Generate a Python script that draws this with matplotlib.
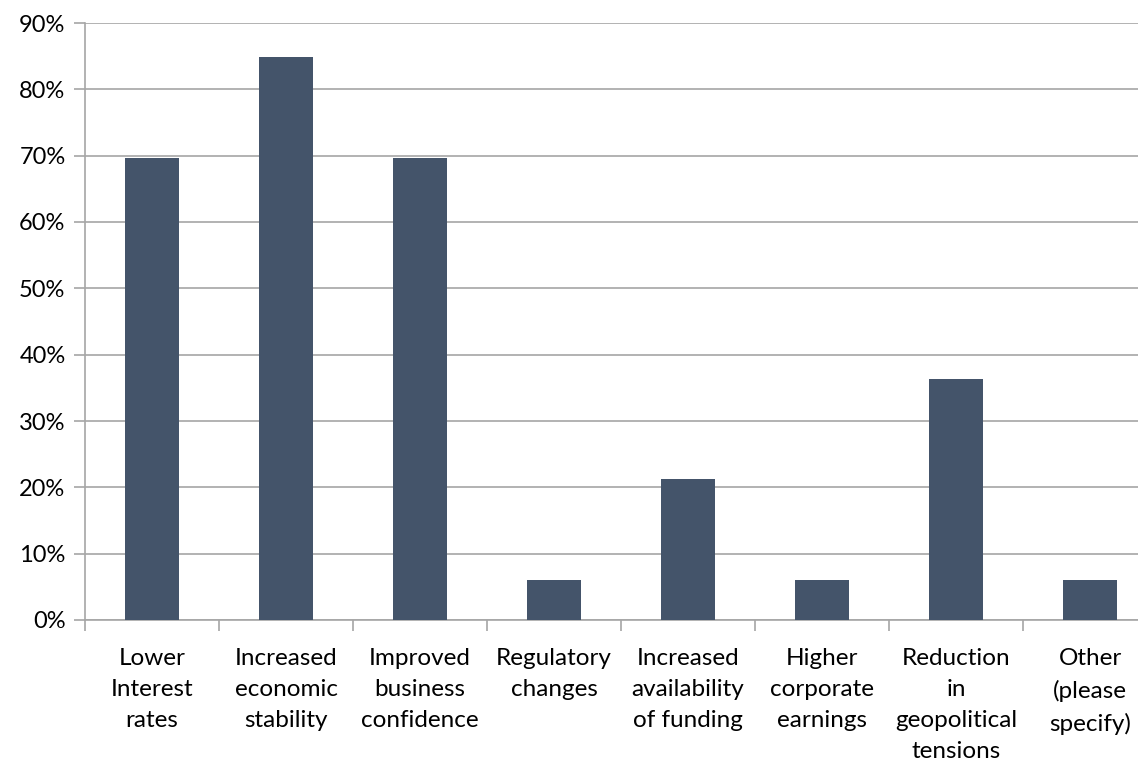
#!/usr/bin/env python3

import matplotlib
matplotlib.use("Agg")
import matplotlib.pyplot as plt
from matplotlib.ticker import PercentFormatter

# Share of respondents (n=33) per factor
categories = [
    "Lower\nInterest\nrates",
    "Increased\neconomic\nstability",
    "Improved\nbusiness\nconfidence",
    "Regulatory\nchanges",
    "Increased\navailability\nof funding",
    "Higher\ncorporate\nearnings",
    "Reduction\nin\ngeopolitical\ntensions",
    "Other\n(please\nspecify)",
]
values = [0.697, 0.848, 0.697, 0.0606, 0.212, 0.0606, 0.364, 0.0606]
yticks = [0.0, 0.1, 0.2, 0.3, 0.4, 0.5, 0.6, 0.7, 0.8, 0.9]

bar_color = "#44546A"
grid_color = "#A6A6A6"

plt.rcParams['font.family'] = ['Lato', 'DejaVu Sans']

W, H = 1138, 764
fig = plt.figure(figsize=(W / 100, H / 100), dpi=100)
# plot area runs past the right edge of the image, like the source
left, right, top, bottom = 85, 1157, 23, 620
ax = fig.add_axes([left / W, 1 - bottom / H, (right - left) / W, (bottom - top) / H])

x = list(range(len(categories)))
ax.bar(x, values, width=0.4, color=bar_color, zorder=3)

ax.set_xlim(-0.5, len(categories) - 0.5)
ax.set_ylim(0, 0.9)
ax.set_yticks(yticks)
ax.yaxis.set_major_formatter(PercentFormatter(1.0, decimals=0))
ax.grid(axis='y', color=grid_color, linewidth=1.2, zorder=0)

# category labels centred, tick marks on the boundaries
ax.set_xticks([i - 0.5 for i in range(len(categories) + 1)])
ax.set_xticklabels([])
ax.set_xticks(x, minor=True)
ax.set_xticklabels(categories, minor=True, fontsize=17.5, linespacing=1.6, va='top')
ax.tick_params(axis='x', which='major', length=8, color=grid_color, width=1.2)
ax.tick_params(axis='x', which='minor', length=0, pad=20)
ax.tick_params(axis='y', length=8, color=grid_color, width=1.2, labelsize=17, pad=6)

for side in ('top', 'right'):
    ax.spines[side].set_visible(False)
for side in ('left', 'bottom'):
    ax.spines[side].set_color(grid_color)
    ax.spines[side].set_linewidth(1.2)

fig.savefig("out.png", dpi=100)
